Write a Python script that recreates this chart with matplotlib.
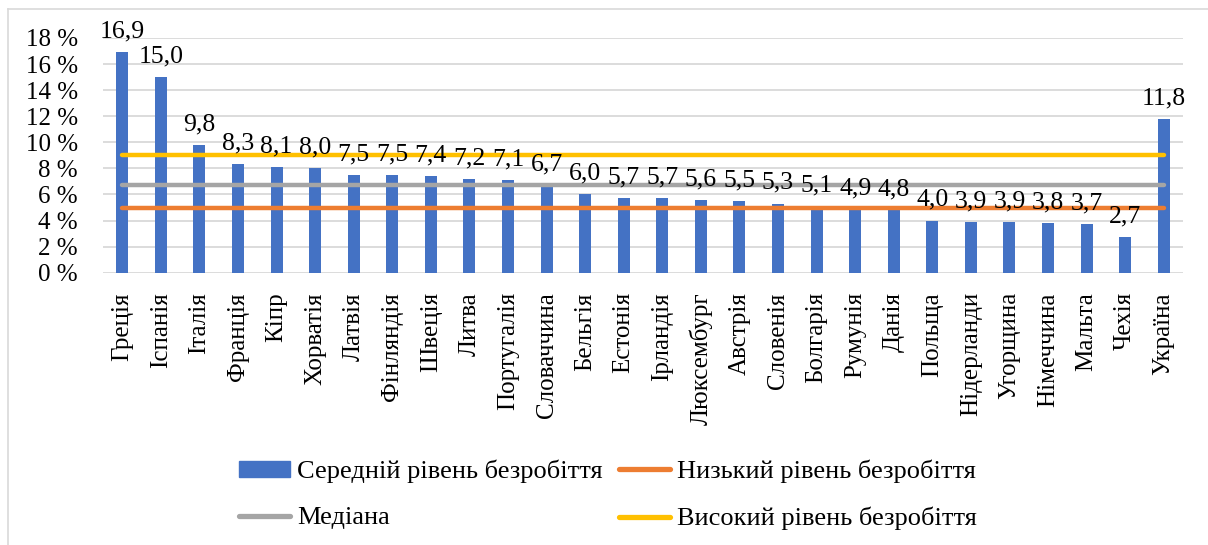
import matplotlib
matplotlib.use("Agg")
import matplotlib.pyplot as plt
from matplotlib.lines import Line2D

plt.rcParams['font.family'] = ['Liberation Serif', 'DejaVu Serif']

countries = ["Греція", "Іспанія", "Італія", "Франція", "Кіпр", "Хорватія", "Латвія",
             "Фінляндія", "Швеція", "Литва", "Португалія", "Словаччина", "Бельгія",
             "Естонія", "Ірландія", "Люксембург", "Австрія", "Словенія", "Болгарія",
             "Румунія", "Данія", "Польща", "Нідерланди", "Угорщина", "Німеччина",
             "Мальта", "Чехія", "Україна"]
avg_rate = [16.9, 15.0, 9.8, 8.3, 8.1, 8.0, 7.5, 7.5, 7.4, 7.2, 7.1, 6.7, 6.0,
            5.7, 5.7, 5.6, 5.5, 5.3, 5.1, 4.9, 4.8, 4.0, 3.9, 3.9, 3.8, 3.7, 2.7, 11.8]
median_level = 6.7
low_level = 5.0
high_level = 9.0
yticks = [0, 2, 4, 6, 8, 10, 12, 14, 16, 18]

labels_legend = ["Середній рівень безробіття", "Медіана",
                 "Низький рівень безробіття", "Високий рівень безробіття"]

BLUE = "#4472C4"
ORANGE = "#ED7D31"
GRAY = "#A5A5A5"
YELLOW = "#FFC000"

fig = plt.figure(figsize=(12.08, 5.45), dpi=100)
ax = fig.add_axes([103/1208, 1 - 272.7/545, (1183 - 103)/1208, (272.7 - 38)/545])

x = list(range(len(countries)))
ax.bar(x, avg_rate, width=0.31, color=BLUE, zorder=2)
lw = 3.2
ax.plot(x, [low_level]*len(x), color=ORANGE, lw=lw, solid_capstyle='round', zorder=3)
ax.plot(x, [median_level]*len(x), color=GRAY, lw=lw, solid_capstyle='round', zorder=3)
ax.plot(x, [high_level]*len(x), color=YELLOW, lw=lw, solid_capstyle='round', zorder=3)

for xi, v in zip(x, avg_rate):
    ax.annotate(f"{v:.1f}".replace(".", ","), (xi, v), xytext=(0, 7),
                textcoords="offset points", ha="center", va="bottom",
                fontsize=18.5, zorder=4)

ax.set_xlim(-0.5, len(x) - 0.5)
ax.set_ylim(0, 18)
ax.set_yticks(yticks)
ax.set_yticklabels([f"{t} %" for t in yticks], fontsize=18)
ax.set_xticks(x)
ax.set_xticklabels(countries, rotation=90, fontsize=18, va="top")
ax.tick_params(axis="y", length=0, pad=18)
ax.tick_params(axis="x", length=0, pad=14)
ax.grid(axis="y", color="#D9D9D9", lw=1.3, zorder=0)
for s in ax.spines.values():
    s.set_visible(False)
ax.set_axisbelow(True)

handles = [plt.Rectangle((0, 0), 1, 1, color=BLUE),
           Line2D([], [], color=GRAY, lw=lw + 0.6, solid_capstyle='round'),
           Line2D([], [], color=ORANGE, lw=lw + 0.6, solid_capstyle='round'),
           Line2D([], [], color=YELLOW, lw=lw + 0.6, solid_capstyle='round')]
fig.legend(handles, labels_legend, ncol=2, loc="center", bbox_to_anchor=(608/1208, 1 - 495/545),
           frameon=False, fontsize=19, handlelength=1.95, handletextpad=0.27,
           columnspacing=0.6, labelspacing=0.9, handleheight=0.55)

# chart border
fig.add_artist(Line2D([8/1208, 8/1208], [0, 1 - 9/545], color="#D9D9D9", lw=1.2))
fig.add_artist(Line2D([8/1208, 1], [1 - 9/545, 1 - 9/545], color="#D9D9D9", lw=1.2))

fig.savefig("out.png", dpi=100)
